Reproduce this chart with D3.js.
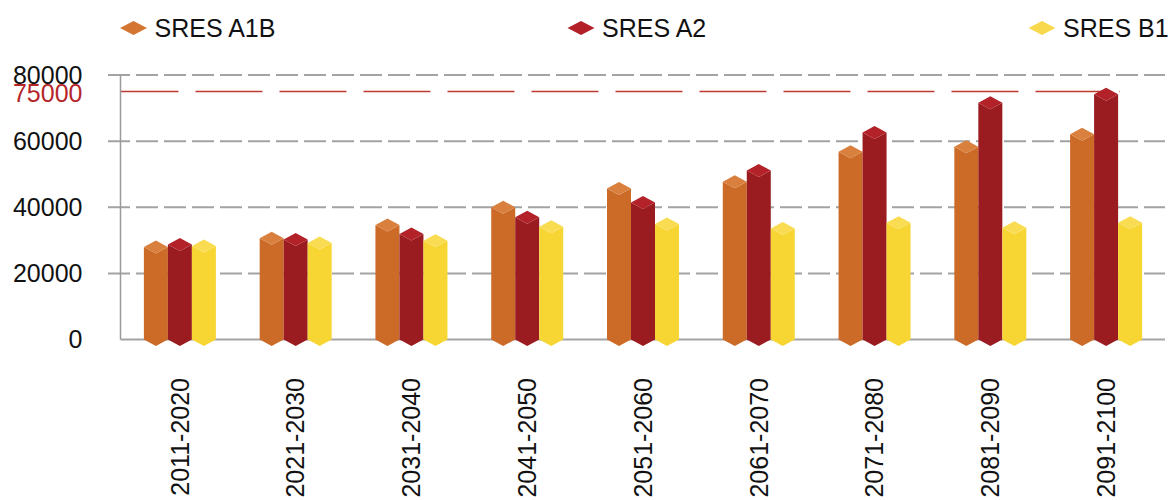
<!DOCTYPE html>
<html>
<head>
<meta charset="utf-8">
<script src="https://cdn.jsdelivr.net/npm/d3@7"></script>
<style>
  html, body { margin: 0; padding: 0; background: #fff; }
  svg { display: block; font-family: "Liberation Sans", Arial, sans-serif; }
</style>
</head>
<body>
<svg id="chart" width="1172" height="500"></svg>
<script>
// Decades on the category axis
const categories = ["2011-2020", "2021-2030", "2031-2040", "2041-2050", "2051-2060",
                    "2061-2070", "2071-2080", "2081-2090", "2091-2100"];
// Scenario names, in legend order
const seriesNames = ["SRES A1B", "SRES A2", "SRES B1"];
// Values per scenario, one per decade
const valuesA1B = [28000, 30600, 34600, 40000, 45700, 47700, 56800, 58300, 62100];
const valuesA2  = [28700, 30250, 31900, 37000, 41400, 51100, 62600, 71600, 74200];
const valuesB1  = [28300, 29200, 29900, 34100, 34900, 33600, 35300, 33800, 35300];
// Value axis ticks and the threshold line
const yTicks = [0, 20000, 40000, 60000, 80000];
const thresholdValue = 75000;

const seriesValues = [valuesA1B, valuesA2, valuesB1];
const bodyColors = ["#cc6a27", "#9a1b20", "#f7d633"];
const topColors  = ["#d9803f", "#b22228", "#f9dc52"];
const legendColors = ["#d47632", "#b32027", "#f8d84c"];

const svg = d3.select("#chart");

const plotLeft = 120.5, plotRight = 1165, yZero = 339.5, yTop = 75;

const y = d3.scaleLinear().domain([0, 80000]).range([yZero, yTop]);
const x = d3.scaleBand().domain(categories).range([122, 1164]);
const xInner = d3.scaleBand().domain(seriesNames).range([0, 72]);

// Dashed gridlines (non-zero ticks); the first dash doubles as the tick mark
svg.append("g").selectAll("line")
  .data(yTicks.filter(t => t !== 0))
  .join("line")
  .attr("x1", 108).attr("x2", plotRight)
  .attr("y1", d => y(d)).attr("y2", d => y(d))
  .attr("stroke", "#a3a3a3").attr("stroke-width", 2)
  .attr("stroke-dasharray", "22,6");

// Threshold line
svg.append("line")
  .attr("x1", plotLeft).attr("x2", 1120)
  .attr("y1", y(thresholdValue)).attr("y2", y(thresholdValue))
  .attr("stroke", "#c0392f").attr("stroke-width", 1.5)
  .attr("stroke-dasharray", "67,17").attr("stroke-dashoffset", 9);

// Axis lines
svg.append("line")
  .attr("x1", plotLeft).attr("x2", plotLeft)
  .attr("y1", yTop).attr("y2", yZero)
  .attr("stroke", "#9a9a9a").attr("stroke-width", 1.5);
svg.append("line")
  .attr("x1", plotLeft).attr("x2", plotRight)
  .attr("y1", yZero).attr("y2", yZero)
  .attr("stroke", "#a3a3a3").attr("stroke-width", 2);

// Value axis labels
const yAxis = svg.append("g")
  .attr("transform", `translate(${plotLeft},0)`)
  .call(d3.axisLeft(y).tickValues(yTicks).tickSize(0).tickPadding(38).tickFormat(d3.format("d")));
yAxis.select(".domain").remove();
yAxis.selectAll("text")
  .attr("font-size", 25).attr("fill", "#111")
  .attr("font-family", "'Liberation Sans', Arial, sans-serif");

// Threshold label
svg.append("text")
  .attr("x", plotLeft - 38).attr("y", y(thresholdValue) + 2)
  .attr("dy", "0.35em")
  .attr("text-anchor", "end")
  .attr("font-size", 25).attr("fill", "#b5262b")
  .text(d3.format("d")(thresholdValue));

// Category axis labels, rotated
const xAxis = svg.append("g")
  .attr("transform", `translate(0,${yZero})`)
  .call(d3.axisBottom(x).tickSize(0));
xAxis.select(".domain").remove();
xAxis.selectAll("text")
  .attr("transform", "rotate(-90)")
  .attr("text-anchor", "end")
  .attr("x", -38.5).attr("y", 0).attr("dy", "0.35em")
  .attr("font-size", 25).attr("fill", "#111")
  .attr("font-family", "'Liberation Sans', Arial, sans-serif");

// Prism-style bars: body with a pointed base, plus a lighter diamond cap
const cap = 6.5;
const bars = svg.append("g");
categories.forEach((cat, i) => {
  const gx = x(cat) + x.bandwidth() / 2 - 36;
  seriesNames.forEach((name, s) => {
    const v = seriesValues[s][i];
    const x0 = gx + xInner(name);
    const w = xInner.bandwidth();
    const yv = y(v), y0 = y(0);
    bars.append("path")
      .attr("d", `M${x0},${yv} L${x0 + w / 2},${yv + cap} L${x0 + w},${yv} L${x0 + w},${y0} L${x0 + w / 2},${y0 + cap} L${x0},${y0} Z`)
      .attr("fill", bodyColors[s]);
    bars.append("path")
      .attr("d", `M${x0},${yv} L${x0 + w / 2},${yv - cap} L${x0 + w},${yv} L${x0 + w / 2},${yv + cap} Z`)
      .attr("fill", topColors[s]);
  });
});

// Legend
const legendX = [133.5, 581, 1042];
const legend = svg.append("g");
seriesNames.forEach((name, s) => {
  const cx = legendX[s], cy = 28;
  legend.append("path")
    .attr("d", `M${cx - 13.5},${cy} L${cx},${cy - 7} L${cx + 13.5},${cy} L${cx},${cy + 7} Z`)
    .attr("fill", legendColors[s]);
  legend.append("text")
    .attr("x", cx + 21).attr("y", cy)
    .attr("dy", "0.35em")
    .attr("font-size", 25).attr("fill", "#111")
    .text(name);
});
</script>
</body>
</html>
